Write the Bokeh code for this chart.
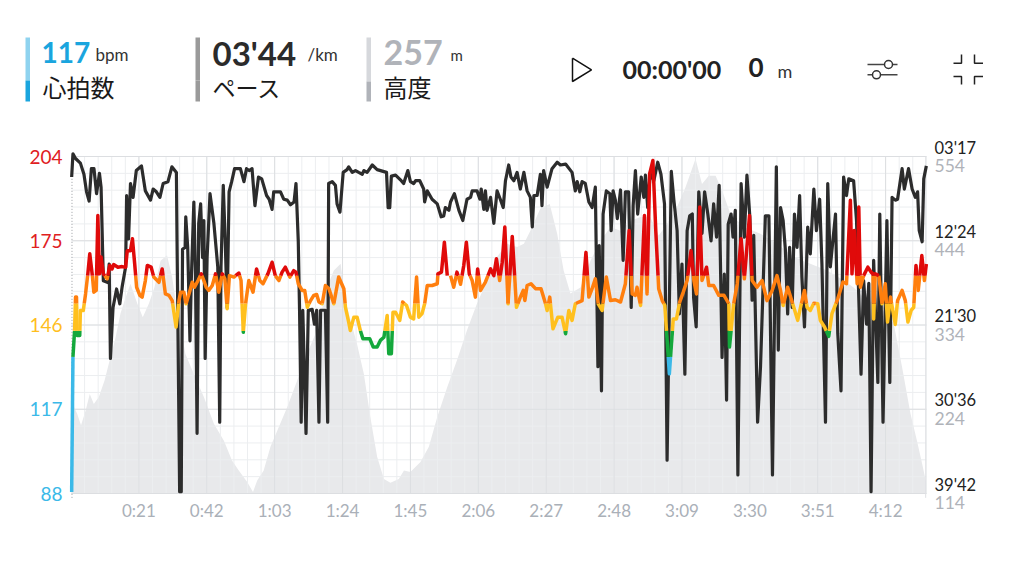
from bokeh.plotting import figure
from bokeh.embed import file_html
from bokeh.resources import INLINE
from bokeh.models import Range1d, FixedTicker, Label
import numpy as np

LAT = "Lato"
CJK = "Noto Sans CJK JP"

hr_labels = ["204", "175", "146", "117", "88"]
hr_ticks = [204, 175, 146, 117, 88]
hr_label_colors = ["#e0201e", "#e0201e", "#ffbe1e", "#3bb9e8", "#3bb9e8"]
pace_ticks = [3.283, 12.4, 21.5, 30.6, 39.7]
pace_labels = ["03'17", "12'24", "21'30", "30'36", "39'42"]
elev_ticks = [554, 444, 334, 224, 114]
time_ticks = [21, 42, 63, 84, 105, 126, 147, 168, 189, 210, 231, 252]
time_labels = ["0:21", "0:42", "1:03", "1:24", "1:45", "2:06", "2:27", "2:48", "3:09", "3:30", "3:51", "4:12"]

elev_t = [0.1,1.9,3.1,4.5,5.8,7.06,8.6,10.4,12.2,13.8,15.3,16.9,18.4,20.5,22.2,24.1,25.8,27.7,29.7,31.3,32.8,33.9,35.4,38,41.1,44.2,47.3,49.8,51.9,54.5,56.3,57.6,59.6,61.7,63.8,66.9,70,73,76.1,79.2,81.3,83.4,84.9,86.5,88.5,90.6,92.6,94.7,96.8,98.8,101.4,103,105,108.1,110.7,113.3,116.4,119.4,122.5,125.6,128.7,131.8,134.9,138,140.1,142.1,145.2,148.1,150.4,152.4,154.5,157.6,160.7,163.8,166.9,170,173.1,176.2,179.2,181.8,184.4,187.5,190.1,193.2,195.2,197.3,199.4,201.4,204,208.1,213.3,218.4,223.6,228.7,233.9,239.1,242.1,245.2,250.4,254.5,257.1,259.7,261.7,263.3,264.6]
elev_m = [235,218,203,222,244,231,240,262,292,318,349,370,388,362,344,362,383,418,425,396,353,331,296,270,240,205,183,157,144,129,116,131,144,175,196,227,262,296,327,383,405,414,366,340,309,270,214,162,133,128,133,144,142,155,175,214,253,288,327,362,392,423,440,436,440,457,486,492,453,405,375,383,418,444,462,457,470,475,475,451,466,488,514,551,518,529,529,510,479,462,453,440,423,414,405,392,383,370,357,336,279,218,183,153,127]

pace_t = [0.2,0.6,1.4,2.9,4.0,4.8,5.6,6.3,7.1,7.9,8.8,9.3,10.0,11.4,11.8,12.2,13.0,14.1,15.1,15.8,16.9,17.2,17.8,18.4,19.2,20.2,21.8,23.0,24.6,25.4,26.4,27.5,28.5,30.0,31.2,32.6,32.8,33.6,34.1,34.5,35.3,35.5,36.1,36.8,37.2,38.0,38.5,39.0,39.5,40.1,40.7,41.1,41.5,42.1,43.0,44.2,45.4,46.0,46.4,47.1,47.7,48.3,48.9,49.7,50.6,52.4,53.5,54.3,55.1,56.0,56.9,58.0,59.0,60.5,61.3,62.2,62.7,64.8,65.8,66.9,67.9,69.0,69.6,70.3,70.7,71.2,71.7,72.7,73.4,74.6,75.3,76.0,76.7,77.2,78.7,79.4,79.7,80.8,81.8,82.3,83.2,84.2,85.4,85.9,87.0,88.0,89.0,90.1,90.6,91.6,93.2,94.7,97.6,98.1,98.6,99.1,100.4,101.9,102.9,104.2,105.0,106.0,106.6,107.9,109.1,109.4,110.2,111.7,113.3,114.5,115.3,115.8,116.9,117.4,118.6,120.0,121.2,122.5,123.6,124.1,125.6,126.5,126.9,127.7,128.2,128.7,129.8,130.8,131.8,132.8,133.7,134.4,135.4,136.1,137.0,138.0,139.0,140.1,141.1,142.1,142.7,143.2,144.2,145.2,145.7,146.2,147.3,148.8,150.4,151.4,153.0,155.0,156.0,156.6,157.4,158.1,159.1,160.2,161.2,162.2,163.0,163.4,164.1,164.6,165.6,166.7,167.1,167.7,168.4,169.0,170.0,170.8,171.5,172.5,173.3,173.9,174.6,175.3,176.4,177.2,177.7,178.4,179.2,180.3,181.5,182.5,183.6,184.4,185.7,186.5,187.5,188.2,189.0,189.9,190.6,191.4,192.2,192.6,193.4,194.2,195.2,196.0,197.0,198.0,198.8,199.7,200.5,201.4,202.1,202.8,203.3,204.2,204.8,205.5,206.3,207.3,208.3,209.1,210.0,210.7,211.2,212.4,213.3,214.8,215.9,217.0,218.2,218.8,219.5,220.3,221.0,221.7,222.3,223.1,223.8,224.6,225.4,226.1,226.9,227.9,228.7,229.8,230.6,231.6,232.3,233.4,234.1,234.9,235.6,236.5,237.2,238.2,239.0,239.9,240.6,242.1,243.0,244.4,245.2,246.1,246.8,247.5,248.3,249.6,250.2,251.2,252.4,253.3,254.0,255.0,255.7,257.1,257.8,259.1,260.2,261.2,261.9,262.4,263.3,263.8,264.6]
pace_v = [5.5,3.0,3.5,4.0,5.2,7.1,8.1,4.6,4.6,7.3,5.1,6.6,16.7,16.9,14.9,25.1,19.6,17.6,19.2,17.4,15.2,7.5,12.2,6.2,7.7,4.8,4.3,7.0,8.0,6.8,7.1,7.7,6.2,6.0,4.4,5.0,12.4,39.5,39.5,13.3,13.1,9.8,13.1,23.2,16.7,8.2,16.0,33.2,10.5,8.4,14.2,10.2,25.1,14.2,7.3,10.5,15.2,32.0,15.2,6.4,12.4,19.6,7.1,6.0,4.6,4.6,6.0,4.6,4.8,4.6,8.6,5.5,5.7,7.5,7.9,9.0,7.1,7.1,7.9,8.0,8.5,8.2,6.2,12.4,19.9,32.0,19.9,33.2,19.9,19.8,21.4,19.9,32.0,19.9,19.9,32.0,6.2,6.0,6.4,8.4,9.3,5.0,4.7,4.4,5.0,4.8,5.0,5.2,4.8,5.0,4.2,4.7,5.0,8.8,8.8,5.4,5.3,5.8,6.2,4.8,6.0,6.2,5.9,5.9,6.8,8.2,7.0,7.9,8.4,9.8,9.7,8.8,9.1,8.2,7.3,9.1,10.2,7.9,7.7,7.0,7.0,7.9,6.8,9.0,7.0,9.1,7.7,10.5,7.0,7.9,8.8,5.9,4.2,5.5,5.9,5.0,6.8,5.0,7.0,7.7,10.9,7.5,7.5,5.2,8.6,4.8,6.6,4.6,3.9,4.2,4.1,5.0,7.0,6.0,7.1,6.0,6.2,8.2,8.8,6.6,26.0,12.9,28.6,9.5,7.0,7.3,11.3,7.0,8.0,10.0,6.9,14.5,7.1,7.1,19.6,8.6,4.8,9.5,5.5,7.7,5.3,8.8,5.0,5.9,3.9,5.2,8.4,36.1,4.9,8.0,11.3,20.3,14.9,26.8,11.3,9.7,9.5,18.5,21.7,7.1,11.6,7.1,9.5,12.4,8.4,12.0,6.4,25.0,16.0,29.6,10.6,9.5,12.0,9.1,37.7,6.2,12.0,5.3,9.8,18.8,11.8,32.0,26.0,9.7,9.7,37.7,4.4,24.2,8.8,10.2,13.4,20.3,13.1,19.6,9.5,13.1,7.5,16.3,21.7,10.9,13.8,6.8,11.3,7.9,14.9,32.0,6.2,15.2,12.7,9.5,22.4,28.6,5.5,7.5,5.7,5.9,10.2,26.8,16.7,21.4,17.0,39.5,14.5,27.7,9.5,32.0,10.2,27.7,7.7,8.0,7.9,4.6,6.8,4.6,6.8,7.7,7.1,11.3,12.5,5.7,4.3]

hr_t = [0.2,0.6,1.1,1.4,1.7,1.9,2.7,2.9,3.8,4.5,5.2,5.8,6.6,7.06,7.8,8.3,8.8,9.3,10,11.2,12,12.7,13.2,14.5,15.8,16.9,17.4,18.4,19,19.7,20.3,21.3,22,23,23.6,24.8,25.6,27.2,28.2,29.2,30.3,31.3,32.5,33.4,33.9,34.9,35.6,36.8,37.5,38.2,39.3,40.3,41.1,41.8,42.6,43.7,44.7,45.7,46.8,47.6,48.3,49,50.4,51.9,52.6,53.3,54,55,56.3,57.4,58.4,59.4,60.9,62.2,63.2,64.3,65.3,66.3,67.7,68.9,69.6,70.3,71.5,72.3,73.1,74.1,75.1,76,76.7,77.7,78.7,79.8,81.3,82.8,84.4,84.9,85.9,86.4,87.5,88.5,89.5,90.3,92.4,93.5,94.7,95.7,96.8,97.8,98.3,99.1,99.6,100.4,101.7,102.6,103.8,105,106,106.9,107.6,108.6,109.4,110.2,111.7,113.3,113.5,114.6,115.5,116.4,117.4,118.4,119.4,120.5,121.5,122.3,123.2,124.1,125.1,125.8,126.7,128.2,129.8,130.8,131.6,132.6,133.4,134.2,135.2,136.5,137.2,137.8,139,139.9,140.4,141.1,142.3,143.7,145.4,146.8,147.3,148.1,149.1,150.6,151.9,153,154,155,156,157.1,158.1,159.3,160.2,161.2,162.2,163.1,164.3,165.6,166.9,168.4,170,171.5,172.65,173.6,174.6,175.1,176.2,177.4,178.2,179,180,180.9,181.8,182.9,183.7,185.1,186.3,187.3,188.3,189.4,190.6,191.8,192.7,193.5,194.5,195.2,196.6,197.3,198.8,200.4,202,203.5,203.7,205,206.1,207.3,208.3,209.9,210.7,212.2,213.8,215.3,216.9,218.4,219.5,220.3,221.7,223.1,224.8,225.8,226.9,227.7,228.7,229.8,231,231.8,233.1,234.4,235.4,237.2,238.8,239.9,241.1,241.6,242.3,243.2,243.7,244.2,245.2,246.5,247.5,248.1,248.3,248.8,249.9,250.9,251.9,252.6,253.5,255,255.7,257.1,258.1,258.9,259.9,260.7,261.4,262.1,263.2,264,264.6]
hr_v = [88.5,135,144,155.6,155.6,142.4,142.4,151,151,156.7,163.6,170.5,163,157.3,157.9,183.7,163.6,169.4,163.6,161.9,166.5,165.3,166.8,165.9,166.1,165.9,171.6,171.6,175.7,167,159,156.2,155.6,161.3,166.5,165.9,162.5,160.7,165.3,156.7,156.2,154.4,145.3,154.4,157.3,157.3,153.3,157.9,160.7,159,161.3,163.6,161.3,159,157.9,159.6,163.6,157.3,163.6,161.9,151.6,163,162.5,163.9,161.3,143.5,153.3,161.3,157.3,165.3,161.3,160.2,163.6,167.6,163,161.3,164.2,165.9,162.5,164.7,164.2,160.2,157.9,157.9,152.1,154.4,156.2,156.5,153.9,153.3,159.6,158.5,153.3,162.5,158.5,152.1,147,144.1,148.7,148.7,144.1,141.3,141.3,138.4,138.4,140.7,141.8,149.3,136.1,136.1,150.4,150.4,147.6,153.9,152.7,148.7,148.1,162.5,148.7,149.9,153.3,159.6,159.6,160.2,163.6,164.2,174.5,163,163,159,164.2,160,166.5,174.5,163.6,161.3,155.6,165.3,157.9,160.8,165.3,163,168.8,161.3,167.6,179.7,153.3,176.5,163.6,152.1,155.6,157.9,154.4,159.6,160.2,158.5,158.5,153.3,151,155.6,144.7,148.7,148.7,143,151,147.6,153.3,153.9,154.4,171,155.6,158.5,161.9,153.3,151,162.5,154.4,154.7,153.9,160.2,178.5,156.7,156.2,159,152.7,183.7,156.7,198,202.6,178.5,158.5,154.4,152.7,129.2,148.1,148.1,153.9,157.3,161.3,171.6,161.3,156.7,186.6,161.3,165.9,159.6,159.6,156.2,156.2,153.3,138.4,153.3,160.2,175.7,161.9,183.7,161.3,159,161.3,154.4,157.9,163,157.9,152.7,159,153.9,147.6,152.7,157.9,152.1,151,153.5,153.3,147.6,145.3,142.1,149.9,155,160.8,160.2,188.9,163.6,178.5,160.2,186.6,159,163,165.9,164.2,163.6,148.1,163.6,163,153.3,160.2,147,155.6,146.2,154.4,157.9,154.4,147,151,152.1,166.5,157.9,169.9,161.3,167]

zone_limits = [135.0, 144.0, 153.4, 163.0]
zone_colors = ["#3bb9e8", "#14a83c", "#ffc01e", "#ff7f0e", "#e00a0a"]


def zone_segments(t, v, low, high):
    xs, ys, cx, cy = [], [], [], []
    for i in range(len(t) - 1):
        a, b, p_, q = t[i], t[i + 1], v[i], v[i + 1]
        lo, hi = min(p_, q), max(p_, q)
        if hi <= low or lo >= high or p_ == q and not (low <= p_ < high):
            if cx:
                xs.append(cx); ys.append(cy); cx, cy = [], []
            continue
        def at(level):
            return a + (b - a) * (level - p_) / (q - p_)
        s0 = (a, p_) if low <= p_ <= high else (at(low if p_ < low else high), low if p_ < low else high)
        s1 = (b, q) if low <= q <= high else (at(low if q < low else high), low if q < low else high)
        if not cx:
            cx, cy = [s0[0]], [s0[1]]
        cx.append(s1[0]); cy.append(s1[1])
        if not (low <= q <= high):
            xs.append(cx); ys.append(cy); cx, cy = [], []
    if cx:
        xs.append(cx); ys.append(cy)
    return xs, ys


W, H = 1020, 570
PL, PR, PT, PB = 71, 926, 156, 493   # plot box inside the page
FB = 514                             # frame bottom: leaves room for the labels that sit below the box
T0, T1 = 0.15, 264.65


def extend(lo, hi):  # ranges whose frame reaches the page edge, so header and side labels can live in it
    k = (hi - lo) / (PB - PT)
    return lo - (FB - PB) * k, hi + PT * k


tk = (T1 - T0) / (PR - PL)
x_start, x_end = T0 - PL * tk, T1 + (W - PR) * tk
hr_bot, hr_top = extend(88, 204)
el_bot, el_top = extend(114, 554)
pk = (39.7 - 3.283) / (PB - PT)
p = figure(width=W, height=H, x_range=Range1d(x_start, x_end), y_range=Range1d(hr_bot, hr_top),
           output_backend="svg", toolbar_location=None, x_axis_location="below", y_axis_location=None,
           min_border_left=0, min_border_right=0, min_border_top=0, min_border_bottom=H - FB)
p.outline_line_color = None
p.grid.visible = False
p.extra_y_ranges = {"pace": Range1d(39.7 + (FB - PB) * pk, 3.283 - PT * pk), "elev": Range1d(el_bot, el_top), "py": Range1d(FB, 0)}
p.extra_x_ranges = {"px": Range1d(0, W)}

HK = dict(x_range_name="px", y_range_name="py")


def txt(x, y, s, size, color, font=LAT, bold=False):
    p.add_layout(Label(x=x, y=y, text=s, text_font=font, text_font_size=f"{size}px", text_color=color,
                       text_font_style="bold" if bold else "normal", text_baseline="middle", **HK))


for x0, y_split, light, dark in [(25, 80, "#8fd3ef", "#1aa5de"), (195, 80, "#9a9a9a", "#9a9a9a"), (366, 81, "#d6d8dc", "#b0b3b9")]:
    p.quad(left=x0, right=x0 + 4.5, top=37, bottom=y_split, color=light, line_width=0, **HK)
    p.quad(left=x0, right=x0 + 4.5, top=y_split, bottom=101, color=dark, line_width=0, **HK)

txt(41, 52, "117", 28, "#1aa5de", bold=True)
txt(95, 54, "bpm", 17, "#333333")
txt(42, 86, "心拍数", 24, "#1a1a1a", font=CJK)
txt(212, 52, "03'44", 33, "#2b2b2b", bold=True)
txt(307, 54, "/km", 17, "#333333")
txt(212, 86, "ペース", 23, "#1a1a1a", font=CJK)
txt(383, 52, "257", 34, "#b0b3b9", bold=True)
txt(450, 54, "m", 15, "#333333")
txt(383, 86, "高度", 24, "#1a1a1a", font=CJK)
txt(622, 68, "00:00'00", 25, "#222222", bold=True)
txt(748, 67, "0", 26, "#222222", bold=True)
txt(777, 70, "m", 18, "#333333")

p.line([572, 572, 591, 572], [57.7, 81, 69.3, 57.7], line_color="#111111", line_width=1.5, **HK)
p.line([867, 897], [64, 64], line_color="#444444", line_width=1.5, **HK)
p.line([867, 897], [74.3, 74.3], line_color="#444444", line_width=1.5, **HK)
p.scatter([888, 876], [64, 74.3], size=8, fill_color="white", line_color="#333333", line_width=1.5, **HK)
for xs_, ys_ in [([953, 961, 961], [62.7, 62.7, 54]), ([974, 974, 982.5], [54, 62.7, 62.7]),
                 ([953, 961, 961], [76, 76, 84]), ([974, 974, 982.5], [84, 76, 76])]:
    p.line(xs_, ys_, line_color="#222222", line_width=1.5, **HK)

ax = p.xaxis[0]
ax.bounds = (T0, T1)
ax.ticker = FixedTicker(ticks=time_ticks)
ax.major_label_overrides = dict(zip(time_ticks, time_labels))
ax.major_label_text_font = LAT
ax.major_label_text_font_size = "17px"
ax.major_label_text_color = "#aab0b8"
ax.major_label_standoff = -21
ax.axis_line_color = None
ax.major_tick_line_color = None
ax.minor_tick_line_color = None

area = p.varea(x=elev_t, y1=[114] * len(elev_t), y2=elev_m, y_range_name="elev", fill_color="#e8e9eb")
area.level = "image"

minor_x = [float(v) for v in np.arange(0, 265, 4.2)][1:]
minor_y = [float(v) for v in np.arange(88, 204.1, 5.8)]
g = p.segment(minor_x, [88] * len(minor_x), minor_x, [204] * len(minor_x), line_color="#eceef0", line_width=1)
g.level = "underlay"
g = p.segment([T0] * len(minor_y), minor_y, [T1] * len(minor_y), minor_y, line_color="#eceef0", line_width=1)
g.level = "underlay"
g = p.segment(time_ticks, [88] * len(time_ticks), time_ticks, [204] * len(time_ticks), line_color="#dcdee1", line_width=1)
g.level = "underlay"
g = p.segment([T0] * len(hr_ticks), hr_ticks, [T1] * len(hr_ticks), hr_ticks, line_color="#dcdee1", line_width=1)
g.level = "underlay"

p.line(x=[0.3, 0.3], y=[86.5, 204], line_color="#9a9da2", line_width=1, line_dash="1 2")
p.line(x=[264.4, 264.4], y=[86.5, 204], line_color="#dfe1e4", line_width=1)

p.line(pace_t, pace_v, y_range_name="pace", line_color="#2c2c2c", line_width=3.2, line_join="round")

bounds = [-1e9] + zone_limits + [1e9]
for i, color in enumerate(zone_colors):
    xs, ys = zone_segments(hr_t, hr_v, bounds[i], bounds[i + 1])
    p.multi_line(xs, ys, line_color=color, line_width=3.5, line_join="round", line_cap="butt")

for v, s, c in zip(hr_ticks, hr_labels, hr_label_colors):
    p.add_layout(Label(x=T0, x_offset=-9, y=v, text=s, text_color=c, text_font=LAT, text_font_size="19px",
                       text_align="right", text_baseline="middle"))
for v, s in zip(pace_ticks, pace_labels):
    p.add_layout(Label(x=T1, x_offset=8, y=v, y_range_name="pace", y_offset=9, text=s, text_color="#222222",
                       text_font=LAT, text_font_size="16.5px", text_baseline="middle"))
for v in elev_ticks:
    p.add_layout(Label(x=T1, x_offset=8, y=v, y_range_name="elev", y_offset=-9, text=str(v), text_color="#b0b3b9",
                       text_font=LAT, text_font_size="17.5px", text_baseline="middle"))

open("out.html", "w").write(file_html(p, INLINE))
